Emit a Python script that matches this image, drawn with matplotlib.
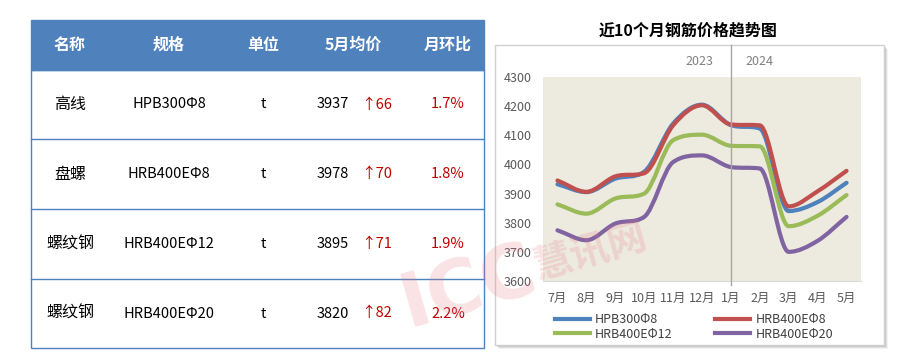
# 钢筋价格表 + 近10个月走势图
import numpy as np
import matplotlib
matplotlib.use("Agg")
import matplotlib.pyplot as plt
from matplotlib.path import Path
from matplotlib.patches import PathPatch, Rectangle
from matplotlib.lines import Line2D

plt.rcParams['font.family'] = ['Noto Sans CJK SC', 'DejaVu Sans']

## données du tableau
col_titles = ["名称", "规格", "单位", "5月均价", "月环比"]
names = ["高线", "盘螺", "螺纹钢", "螺纹钢"]
specs = ["HPB300Φ8", "HRB400EΦ8", "HRB400EΦ12", "HRB400EΦ20"]
units = ["t", "t", "t", "t"]
may_price = [3937, 3978, 3895, 3820]
may_change = [66, 70, 71, 82]
may_pct = ["1.7%", "1.8%", "1.9%", "2.2%"]

## données de la courbe
months = ["7月", "8月", "9月", "10月", "11月", "12月", "1月", "2月", "3月", "4月", "5月"]
hpb300_8 = [3932, 3905, 3951, 3975, 4140, 4205, 4135, 4123, 3840, 3871, 3937]
hrb400e_8 = [3945, 3906, 3959, 3970, 4134, 4203, 4137, 4134, 3856, 3908, 3978]
hrb400e_12 = [3863, 3831, 3883, 3900, 4083, 4102, 4064, 4062, 3788, 3824, 3895]
hrb400e_20 = [3774, 3740, 3797, 3820, 4008, 4031, 3991, 3986, 3700, 3738, 3820]
series_labels = ["HPB300Φ8", "HRB400EΦ8", "HRB400EΦ12", "HRB400EΦ20"]
series_colors = ["#4F81BD", "#C0504D", "#9BBB59", "#8064A2"]
years = ["2023", "2024"]

fig = plt.figure(figsize=(9, 3.59), dpi=100)
bg = fig.add_axes([0, 0, 1, 1])
bg.set_xlim(0, 900)
bg.set_ylim(359, 0)
bg.axis("off")

## tableau
border = "#4F81BD"
tx0, tx1 = 31, 484
row_y = [20, 70, 139, 209, 279, 348]
col_x = [70, 169, 263, 353, 448]
bg.add_patch(Rectangle((tx0, row_y[0]), tx1 - tx0, row_y[1] - row_y[0],
                       facecolor="#4F81BD", edgecolor=border, lw=1, zorder=2))
bg.add_patch(Rectangle((tx0, row_y[1]), tx1 - tx0, row_y[-1] - row_y[1],
                       facecolor="none", edgecolor=border, lw=1, zorder=2))
for yy in row_y[2:-1]:
    bg.plot([tx0, tx1], [yy, yy], color=border, lw=1, zorder=2)
for j, t in enumerate(col_titles):
    bg.text(col_x[j], (row_y[0] + row_y[1]) / 2, t, color="white", fontsize=11.5,
            fontweight="bold", ha="center", va="center", zorder=3)
for i in range(len(names)):
    yc = (row_y[i + 1] + row_y[i + 2]) / 2
    bg.text(col_x[0], yc, names[i], fontsize=11.5, ha="center", va="center")
    bg.text(col_x[1], yc, specs[i], fontsize=10.5, ha="center", va="center")
    bg.text(col_x[2], yc, units[i], fontsize=10.5, ha="center", va="center")
    bg.text(col_x[3] - 4, yc, str(may_price[i]), fontsize=10.5, ha="right", va="center")
    bg.text(col_x[3] + 8, yc, "↑" + str(may_change[i]), fontsize=10.5, color="#C00000",
            ha="left", va="center")
    bg.text(col_x[4], yc, may_pct[i], fontsize=10.5, color="#C00000", ha="center", va="center")

## cadre du graphe avec ombre
for k, a in enumerate([0.10, 0.16, 0.22]):
    off = 4 - k
    bg.add_patch(Rectangle((495 + off, 45 + off), 389, 300, facecolor="#808080",
                           edgecolor="none", alpha=a, zorder=1))
bg.add_patch(Rectangle((495, 45), 389, 300, facecolor="white", edgecolor="#D0D0D0",
                       lw=1, zorder=1.5))
bg.text(688, 31, "近10个月钢筋价格趋势图", fontsize=11.5, fontweight="bold",
        ha="center", va="center")

## courbes lissées (bezier, tangentes bornées)
ax = fig.add_axes([543 / 900, (359 - 281) / 359, 318 / 900, 204 / 359])
ax.set_facecolor("#EDEAE0")
x = np.arange(len(months))


def smooth_path(xs, ys):
    xs = np.asarray(xs, float)
    ys = np.asarray(ys, float)
    d = np.diff(ys) / np.diff(xs)
    m = np.zeros(len(ys))
    m[0], m[-1] = d[0], d[-1]
    for i in range(1, len(ys) - 1):
        if d[i - 1] * d[i] > 0:
            cr = (d[i - 1] + d[i]) / 2
            lim = 3 * min(abs(d[i - 1]), abs(d[i]))
            m[i] = np.sign(cr) * min(abs(cr), lim)
    verts = [(xs[0], ys[0])]
    codes = [Path.MOVETO]
    for i in range(len(ys) - 1):
        h = (xs[i + 1] - xs[i]) / 3
        verts += [(xs[i] + h, ys[i] + m[i] * h),
                  (xs[i + 1] - h, ys[i + 1] - m[i + 1] * h),
                  (xs[i + 1], ys[i + 1])]
        codes += [Path.CURVE4] * 3
    return Path(verts, codes)


all_series = [hpb300_8, hrb400e_8, hrb400e_12, hrb400e_20]
handles = []
for ys, c, lab in zip(all_series, series_colors, series_labels):
    ax.add_patch(PathPatch(smooth_path(x, ys), facecolor="none", edgecolor=c,
                           lw=3, capstyle="round", zorder=3))
    handles.append(Line2D([], [], color=c, lw=3, label=lab))

ax.set_xlim(-0.5, len(months) - 0.5)
ax.set_ylim(3600, 4300)
ax.set_yticks(np.arange(3600, 4301, 100))
ax.set_xticks(x)
ax.set_xticklabels(months)
ax.tick_params(axis="both", length=0, labelsize=9, colors="#595959")
ax.tick_params(axis="y", pad=8)
ax.tick_params(axis="x", pad=8)
for s in ["top", "right", "left"]:
    ax.spines[s].set_visible(False)
ax.spines["bottom"].set_color("#D9D9D9")

# séparation 2023 / 2024
ax.axvline(6, ymin=-0.02, ymax=(281 - 45) / 204, color="#A6A6A6", lw=1, clip_on=False, zorder=4)
ax.text(4.9, 1.075, years[0], transform=ax.get_xaxis_transform(), fontsize=9,
        color="#808080", ha="center", va="center")
ax.text(7.0, 1.075, years[1], transform=ax.get_xaxis_transform(), fontsize=9,
        color="#808080", ha="center", va="center")

leg = fig.legend([handles[0], handles[2], handles[1], handles[3]],
                 [series_labels[0], series_labels[2], series_labels[1], series_labels[3]],
                 ncol=2, loc="upper left", bbox_to_anchor=(544 / 900, 1 - 302 / 359),
                 frameon=False, fontsize=9, handlelength=2.8, handletextpad=0.4,
                 labelspacing=0.1, columnspacing=3.4, labelcolor="#404040")

# filigrane par-dessus
fig.text(468 / 900, 1 - 288 / 359, "ICC", fontsize=54, fontweight="bold", color="#E8737A",
         alpha=0.2, rotation=16, ha="center", va="center", family="DejaVu Sans", zorder=10)
fig.text(590 / 900, 1 - 252 / 359, "慧讯网", fontsize=28, fontweight="bold", color="#E8737A",
         alpha=0.2, rotation=16, ha="center", va="center", zorder=10)

fig.savefig("out.png", dpi=100)
print("Done")
